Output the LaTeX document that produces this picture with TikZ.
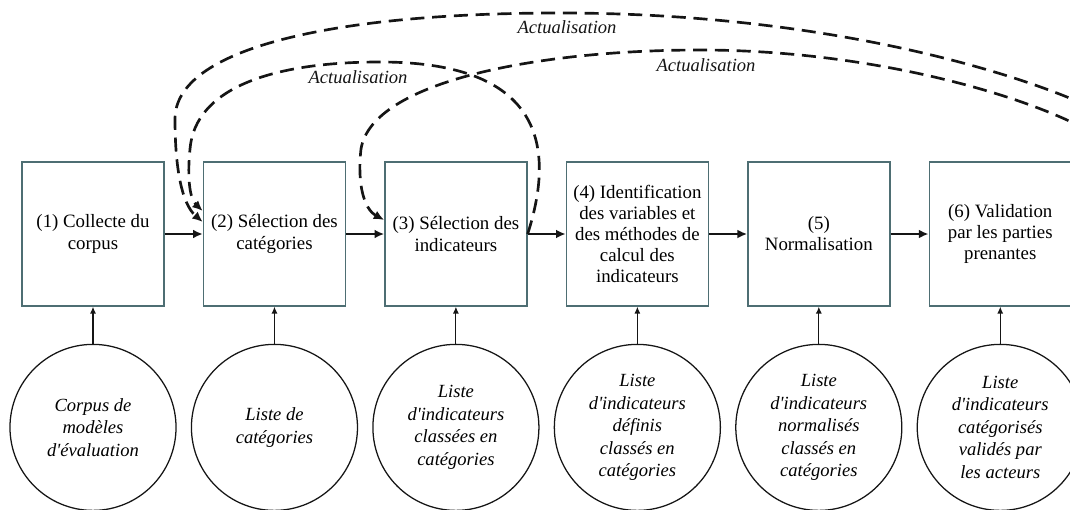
\documentclass[tikz,border=0pt]{standalone}
\usepackage{fontspec}
\setmainfont{Liberation Serif}
\usepackage{tikz}
\usetikzlibrary{positioning,arrows.meta,calc}
\definecolor{boxline}{HTML}{4E6E73}
\definecolor{ink}{HTML}{151515}
\tikzset{
    procbox/.style={
        draw=boxline, fill=white, line width=1pt,
        minimum width=3.55cm, minimum height=3.6cm,
        font=\fontsize{13.4}{15}\selectfont, align=center, inner sep=2pt
    },
    datacircle/.style={
        draw=ink, circle, line width=0.9pt,
        minimum size=4.15cm, inner sep=0pt,
        font=\fontsize{13.2}{16}\selectfont\itshape, align=center
    },
    flowarrow/.style={-{Latex[length=2.4mm,width=2.2mm]}, line width=1.8pt, color=ink},
    inputarrow/.style={-{Latex[length=1.7mm,width=1.5mm]}, line width=0.8pt, color=ink},
    updatearrow/.style={-{Latex[length=2.6mm,width=2.3mm]}, line width=1.9pt, dash pattern=on 10pt off 5.5pt, color=ink},
    updlabel/.style={font=\fontsize{13.2}{15}\selectfont\itshape, color=ink},
}
\begin{document}
\begin{tikzpicture}[
        x=0.025cm, y=0.025cm,
        node distance=0.925cm and 0.95cm,
    ]
    \useasboundingbox (0,0) rectangle (1070,509);
    \clip (0,0) rectangle (1070,509);
    % etapes
    \node[procbox] (p1) at (93,275) {(1) Collecte du\\corpus};
    \node[procbox, right=of p1] (p2) {(2) Sélection des\\catégories};
    \node[procbox, right=of p2] (p3) {(3) Sélection des\\indicateurs};
    \node[procbox, right=of p3] (p4) {(4) Identification\\des variables et\\des méthodes de\\calcul des\\indicateurs};
    \node[procbox, right=of p4] (p5) {(5)\\Normalisation};
    \node[procbox, right=of p5] (p6) {(6) Validation\\par les parties\\prenantes};
    % donnees
    \node[datacircle, below=of p1] (d1) {Corpus de\\modèles\\d\textquotesingle évaluation};
    \node[datacircle, below=of p2] (d2) {Liste de\\catégories};
    \node[datacircle, below=of p3] (d3) {Liste\\d\textquotesingle indicateurs\\classées en\\catégories};
    \node[datacircle, below=of p4] (d4) {Liste\\d\textquotesingle indicateurs\\définis\\classés en\\catégories};
    \node[datacircle, below=of p5] (d5) {Liste\\d\textquotesingle indicateurs\\normalisés\\classés en\\catégories};
    \node[datacircle, below=of p6] (d6) {Liste\\d\textquotesingle indicateurs\\catégorisés\\validés par\\les acteurs};
    \draw[flowarrow] (p1) -- (p2);
    \draw[flowarrow] (p2) -- (p3);
    \draw[flowarrow] (p3) -- (p4);
    \draw[flowarrow] (p4) -- (p5);
    \draw[flowarrow] (p5) -- (p6);
    \draw[inputarrow] (d1) -- (p1);
    \draw[inputarrow] (d2) -- (p2);
    \draw[inputarrow] (d3) -- (p3);
    \draw[inputarrow] (d4) -- (p4);
    \draw[inputarrow] (d5) -- (p5);
    \draw[inputarrow] (d6) -- (p6);
    % boucles d'actualisation
    \draw[updatearrow] (p6.east) .. controls (1100,310) and (1113,394) .. (1067,412)
        .. controls (980,447) and (800,496) .. (560,496)
        .. controls (330,496) and (175,460) .. (175,390)
        .. controls (175,340) and (182,305) .. ($(p2.west)+(0,12)$);
    \draw[updatearrow] (p6.east) .. controls (1100,305) and (1113,368) .. (1067,389)
        .. controls (990,424) and (850,459) .. (700,459)
        .. controls (540,459) and (372,428) .. (361,360)
        .. controls (357,325) and (364,300) .. ($(p3.west)+(0,14)$);
    \draw[updatearrow] (p3.east) .. controls (555,360) and (545,447) .. (380,447)
        .. controls (270,447) and (195,420) .. (190,360)
        .. controls (187,330) and (190,310) .. ($(p2.west)+(0,23)$);
    \node[updlabel] (u1) at (567,482) {Actualisation};
    \node[updlabel] (u2) at (706,444) {Actualisation};
    \node[updlabel] (u3) at (358,432) {Actualisation};
\end{tikzpicture}
\end{document}
